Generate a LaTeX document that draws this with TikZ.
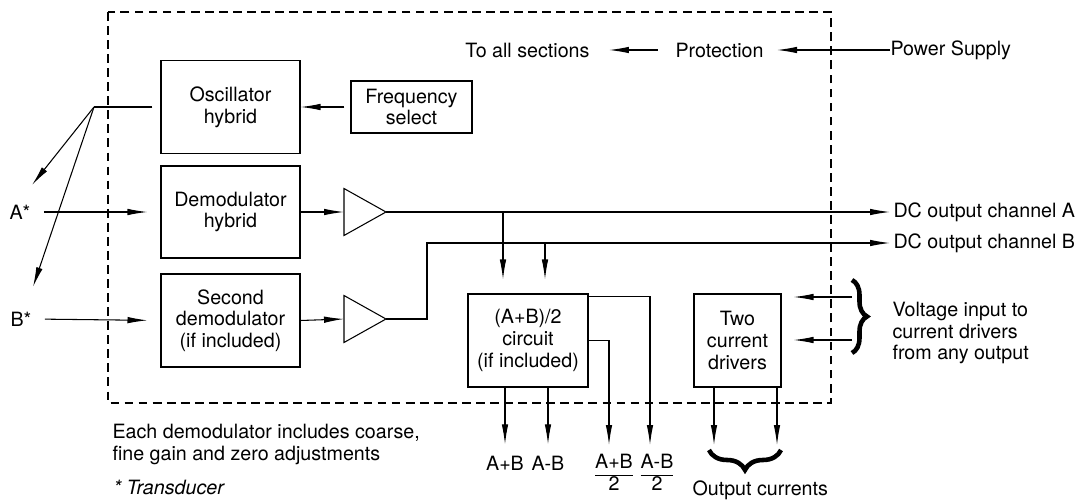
\documentclass[tikz,border=0pt]{standalone}
\usepackage{fontspec}
\setmainfont{TeX Gyre Heros}
\usetikzlibrary{arrows.meta, decorations.pathreplacing, calc}

\begin{document}
\begin{tikzpicture}[x=0.02cm, y=-0.02cm, font=\fontsize{11.2}{12.3}\selectfont, line width=0.6pt,
    arr/.style={-{Latex[length=0.4cm, width=0.13cm]}},
    blk/.style={draw, align=center, inner sep=0pt},
    lbl/.style={inner sep=0pt},
    bigbrace/.style={decorate, decoration={brace, amplitude=#1}, line width=2.6pt}]
    \useasboundingbox (0,0) rectangle (1083,500);
    \draw[dash pattern=on 5pt off 3pt] (108,12) rectangle (831,403);

    \node[blk, minimum width=2.78cm, minimum height=1.86cm] (osc) at (230.5,107) {Oscillator\\hybrid};
    \node[blk, minimum width=2.42cm, minimum height=1.04cm] (freq) at (411.5,107) {Frequency\\select};
    \node[blk, minimum width=2.78cm, minimum height=1.84cm] (demA) at (230.5,212) {Demodulator\\hybrid};
    \node[blk, minimum width=2.78cm, minimum height=1.86cm] (demB) at (230.5,320.5) {Second\\demodulator\\(if included)};
    \foreach \n/\y in {A/212,B/319}
        \draw (344,\y) coordinate (amp\n) ++(0,-23.5) -- (386,\y) coordinate (amp\n tip) -- (344,\y+23.5) -- cycle;
    \node[blk, minimum width=2.4cm, minimum height=1.86cm] (ab) at (528,340.5) {(A+B)/2\\circuit\\(if included)};
    \node[blk, minimum width=1.74cm, minimum height=1.86cm] (drv) at (737.5,340.5) {Two\\current\\drivers};

    \node[lbl, anchor=east] (allsec) at (590,50) {To all sections};
    \node[lbl] (prot) at (719.5,50) {Protection};
    \node[lbl, anchor=west] (psu) at (890,50) {Power Supply};
    \node[lbl] (inA) at (20,212) {A*};
    \node[lbl] (inB) at (21,319) {B*};
    \node[lbl, anchor=west] (outA) at (893,212) {DC output channel A};
    \node[lbl, anchor=west] (outB) at (893,243) {DC output channel B};
    \node[lbl, anchor=west, align=left] (vin) at (892,333) {Voltage input to\\current drivers\\from any output};
    \node[lbl, anchor=west] (outcur) at (692,490) {Output currents};
    \node[lbl, anchor=west, align=left] (note) at (112,444.5) {Each demodulator includes coarse,\\fine gain and zero adjustments};
    \node[lbl, anchor=west] (trans) at (113,487) {\itshape * Transducer};
    \node[lbl] (sum) at (505,463) {A+B};
    \node[lbl] (dif) at (548,463) {A-B};
    \node[lbl] (sum2) at (614,475) {\begin{tabular}{@{}c@{}}A+B\\\hline 2\end{tabular}};
    \node[lbl] (dif2) at (657,475) {\begin{tabular}{@{}c@{}}A-B\\\hline 2\end{tabular}};

    \coordinate (split) at (94,107);
    \coordinate (toA) at (32,185);
    \coordinate (toB) at (33,287);
    \coordinate (bendB) at (427,243);
    \coordinate (tapA) at (503,212);
    \coordinate (tapB) at (545,243);
    \coordinate (halfS) at (609,445);
    \coordinate (halfD) at (650,445);
    \coordinate (curL) at (714,445);
    \coordinate (curR) at (777,445);
    \coordinate (vinT) at (852,297);
    \coordinate (vinM) at (852,340);

    \draw[shorten <=0.16cm] (osc.west) -- (split);
    \foreach \t in {toA,toB}
        \draw[arr] (split) -- (\t);
    \draw[arr, shorten <=0.12cm] (freq.west) -- (osc.east);
    \draw[arr, shorten <=0.26cm, shorten >=0.26cm] (inA.east) -- (demA.west);
    \draw[arr, shorten <=0.26cm, shorten >=0.26cm] (inB.east) -- (demB.west);
    \draw[arr] (demA.east) -- (ampA);
    \draw[arr] (demB.east) -- (ampB);
    \draw[arr, shorten >=0.06cm] (ampAtip) -- (outA.west);
    \draw[arr, shorten >=0.06cm] (ampBtip) -| (bendB) -- (outB.west);
    \foreach \c in {tapA,tapB}
        \draw[arr, shorten >=0.28cm] (\c) -- (\c |- ab.north);
    \draw[arr, shorten >=0.22cm] (sum |- ab.south) -- (sum.north);
    \draw[arr, shorten >=0.22cm] (dif |- ab.south) -- (dif.north);
    \draw[arr] (ab.east) -| (halfS);
    \draw[arr] ([yshift=-0.06cm]ab.north east) -| (halfD);
    \foreach \c in {curL,curR}
        \draw[arr] (drv.south -| \c) -- (\c);
    \foreach \c in {vinT,vinM}
        \draw[arr, shorten >=0.24cm] (\c) -- (\c -| drv.east);
    \draw[arr, shorten <=0.34cm, shorten >=0.38cm] (prot.west) -- (allsec.east);
    \draw[arr, shorten >=0.26cm] (psu.west) -- (prot.east);

    \draw[bigbrace=0.3cm] (852,280) -- (852,353);
    \draw[bigbrace=0.4cm] (781,450) -- (709,450);
\end{tikzpicture}
\end{document}
